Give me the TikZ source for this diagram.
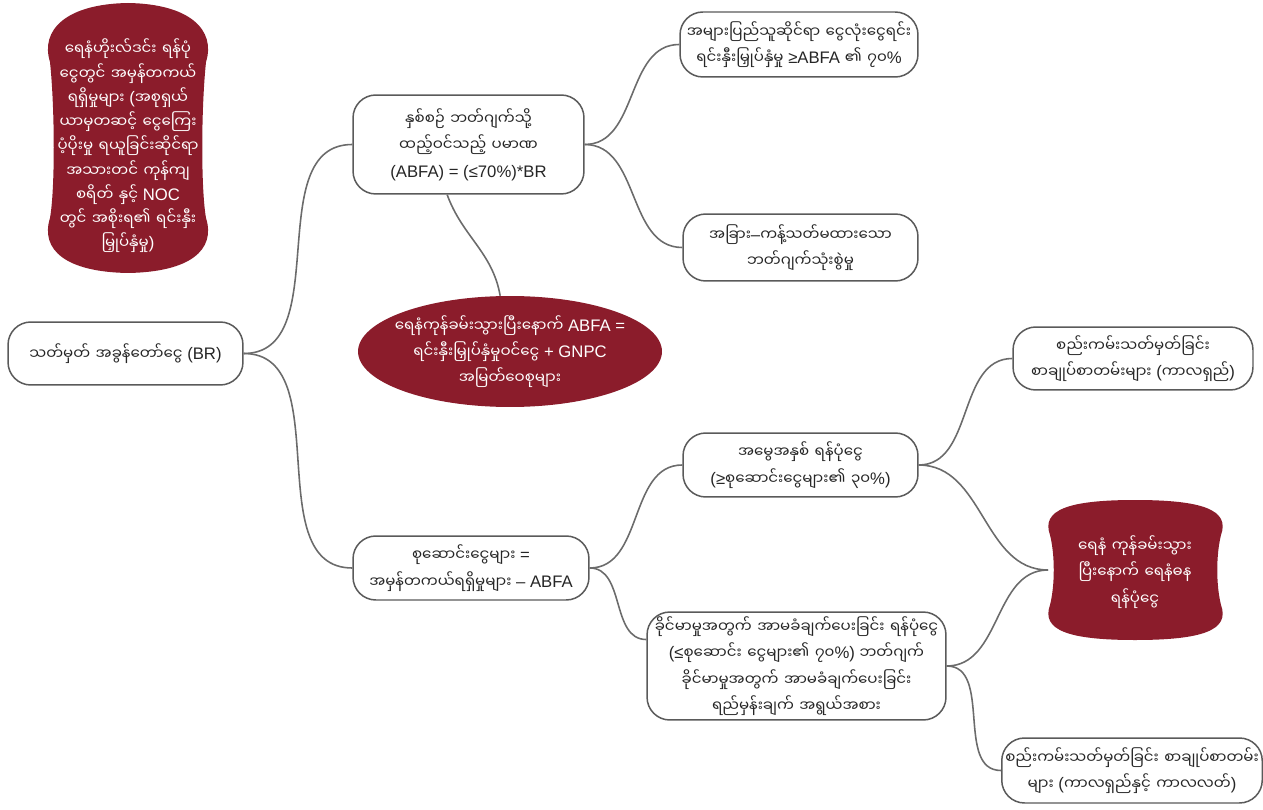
\documentclass[tikz,border=0pt]{standalone}
\usepackage{fontspec}
\setmainfont{Liberation Sans}
\newfontfamily\mmfont[Script=Myanmar, Scale=0.9, WordSpace=1.4]{Noto Sans Myanmar UI}
\newcommand{\mm}[1]{{\mmfont #1}}
\usetikzlibrary{shapes.geometric}
\definecolor{mapred}{HTML}{8B1C2B}
\definecolor{linegray}{HTML}{6B6B6B}
\definecolor{boxgray}{HTML}{5A5A5A}

\begin{document}
\begin{tikzpicture}[x=0.02cm, y=-0.02cm,
    every node/.style={font=\fontsize{9.5}{15}\selectfont, align=center},
    topic/.style={draw=boxgray, line width=0.85pt, rounded corners=13pt,
      fill=white, text=black!85, inner sep=2pt},
    redtext/.style={text=white},
    link/.style={draw=linegray, line width=0.9pt}]
    \useasboundingbox (0,0) rectangle (1263,810);

    % Red barrel shapes
    \fill[mapred] (50,62) .. controls (40,30) and (66,4) .. (128,3)
      .. controls (190,4) and (216,30) .. (206,62)
      .. controls (201,110) and (201,190) .. (206,218)
      .. controls (216,250) and (190,272) .. (128,273)
      .. controls (66,272) and (40,250) .. (50,218)
      .. controls (55,190) and (55,110) .. (50,62) -- cycle;
    \fill[mapred] (1050,535) .. controls (1041,510) and (1068,500) .. (1135,500)
      .. controls (1203,500) and (1230,510) .. (1221,535)
      .. controls (1216,555) and (1216,585) .. (1221,605)
      .. controls (1230,630) and (1203,640) .. (1135,640)
      .. controls (1068,640) and (1041,630) .. (1050,605)
      .. controls (1055,585) and (1055,555) .. (1050,535) -- cycle;
    \coordinate (postoil-w) at (1048,570);

    % Nodes
    \node[topic, minimum width=4.7cm, minimum height=1.26cm] (br) at (125.5,353.5)
      {\mm{သတ်မှတ် အခွန်တော်ငွေ}  (BR)};

    \node[redtext, font=\fontsize{9.5}{13.8}\selectfont] (holdfund) at (128,146)
      {\mm{ရေနံဟိုးလ်ဒင်း ရန်ပုံ}\\
       \mm{ငွေတွင် အမှန်တကယ်}\\
       \mm{ရရှိမှုများ} (\mm{အစုရှယ်}\\
       \mm{ယာမှတဆင့် ငွေကြေး}\\
       \mm{ပံ့ပိုးမှု ရယူခြင်းဆိုင်ရာ}\\
       \mm{အသားတင် ကုန်ကျ}\\
       \mm{စရိတ် နှင့်} NOC\\
       \mm{တွင် အစိုးရ၏ ရင်းနှီး}\\
       \mm{မြှုပ်နှံမှု})};

    \node[topic, minimum width=4.62cm, minimum height=1.98cm] (abfa) at (468.5,144.5)
      {\mm{နှစ်စဉ် ဘတ်ဂျက်သို့}\\
       \mm{ထည့်ဝင်သည့် ပမာဏ}\\
       (ABFA)  =  (≤70\%)*BR};

    \node[topic, minimum width=4.76cm, minimum height=1.3cm] (pubinv) at (799,44.5)
      {\mm{အများပြည်သူဆိုင်ရာ ငွေလုံးငွေရင်း}\\
       \mm{ရင်းနှီးမြှုပ်နှံမှု} ≥ABFA \mm{၏ ၇၀}\%};

    \node[topic, minimum width=4.7cm, minimum height=1.34cm] (other) at (800.5,247.5)
      {\mm{အခြား}–\mm{ကန့်သတ်မထားသော}\\
       \mm{ဘတ်ဂျက်သုံးစွဲမှု}};

    \node[ellipse, fill=mapred, redtext, minimum width=6.08cm, minimum height=2.22cm,
      inner xsep=-8pt, inner ysep=-2pt] (postabfa) at (510,351.5)
      {\mm{ရေနံကုန်ခမ်းသွားပြီးနောက်}  ABFA  =\\
       \mm{ရင်းနှီးမြှုပ်နှံမှုဝင်ငွေ}  +  GNPC\\
       \mm{အမြတ်ဝေစုများ}};

    \node[topic, minimum width=4.72cm, minimum height=1.28cm] (savings) at (471,568)
      {\mm{စုဆောင်းငွေများ}  =\\
       \mm{အမှန်တကယ်ရရှိမှုများ}  –  ABFA};

    \node[topic, minimum width=4.7cm, minimum height=1.28cm] (heritage) at (800.5,465)
      {\mm{အမွေအနှစ် ရန်ပုံငွေ}\\
       (≥\mm{စုဆောင်းငွေများ၏ ၃၀}\%)};

    \node[topic, minimum width=4.8cm, minimum height=1.26cm] (ltcontract) at (1133,358.5)
      {\mm{စည်းကမ်းသတ်မှတ်ခြင်း}\\
       \mm{စာချုပ်စာတမ်းများ} (\mm{ကာလရှည်})};

    \node[redtext] (postoil) at (1135,572)
      {\mm{ရေနံ ကုန်ခမ်းသွား}\\
       \mm{ပြီးနောက် ရေနံဓန}\\
       \mm{ရန်ပုံငွေ}};

    \node[topic, minimum width=5.98cm, minimum height=2.16cm] (stab) at (796.5,666)
      {\mm{ခိုင်မာမှုအတွက် အာမခံချက်ပေးခြင်း ရန်ပုံငွေ}\\
       (≤\mm{စုဆောင်း ငွေများ၏ ၇၀}\%) \mm{ဘတ်ဂျက်}\\
       \mm{ခိုင်မာမှုအတွက် အာမခံချက်ပေးခြင်း}\\
       \mm{ရည်မှန်းချက် အရွယ်အစား}};

    \node[topic, minimum width=5.2cm, minimum height=1.3cm] (mtcontract) at (1132,770.5)
      {\mm{စည်းကမ်းသတ်မှတ်ခြင်း စာချုပ်စာတမ်း}\\
       \mm{များ} (\mm{ကာလရှည်နှင့် ကာလလတ်})};

    % Connectors
    \draw[link] (br.east) to[out=0, in=180] (abfa.west);
    \draw[link] (br.east) to[out=0, in=180] (savings.west);
    \draw[link] (abfa.east) to[out=0, in=180] (pubinv.west);
    \draw[link] (abfa.east) to[out=0, in=180] (other.west);
    \draw[link] (abfa.247) to[out=-70, in=100] (postabfa.100);
    \draw[link] (savings.east) to[out=0, in=180] (heritage.west);
    \draw[link] (savings.east) to[out=0, in=180] (stab.170);
    \draw[link] (heritage.east) to[out=0, in=180] (ltcontract.west);
    \draw[link] (heritage.east) to[out=0, in=180] (postoil-w);
    \draw[link] (stab.east) to[out=0, in=180] (postoil-w);
    \draw[link] (stab.east) to[out=0, in=180] (mtcontract.west);
\end{tikzpicture}
\end{document}
